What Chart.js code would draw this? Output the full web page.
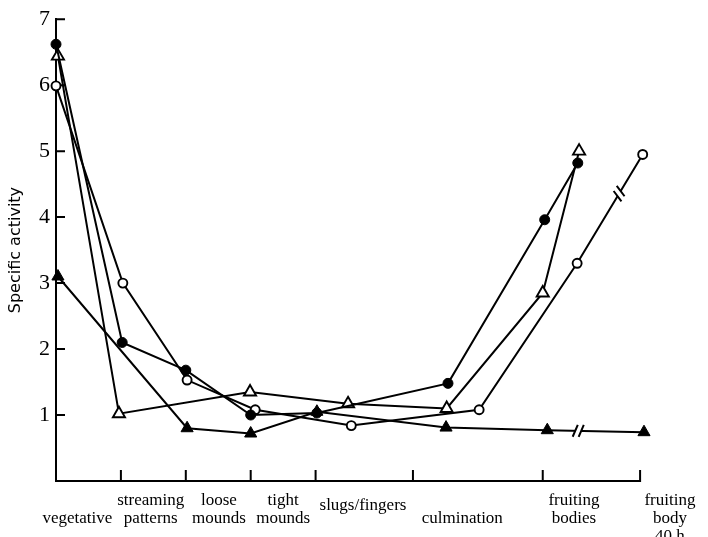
<!DOCTYPE html>
<html>
<head>
<meta charset="utf-8">
<script src="https://cdn.jsdelivr.net/npm/chart.js@4.4.1/dist/chart.umd.min.js"></script>
<style>
  html, body { margin: 0; padding: 0; background: #fff; }
</style>
</head>
<body>
<canvas id="chart" width="708" height="537"></canvas>
<script>
// Developmental stages along the x axis (stage units, one unit per early stage)
const stageLabels = [
  ["", "vegetative"],
  ["streaming", "patterns"],
  ["loose", "mounds"],
  ["tight", "mounds"],
  ["slugs/fingers"],
  ["", "culmination"],
  ["fruiting", "bodies"],
  ["fruiting", "body", "40 h"]
];
const stageLabelPos = [0.33, 1.46, 2.51, 3.5, 4.73, 6.26, 7.98, 9.46];
const stageBounds = [1, 2, 3, 4, 5.5, 7.5, 9];
const axisEnd = 9;

// Specific activity, y tick values
const yTicks = [1, 2, 3, 4, 5, 6, 7];

// Series: filled circles
const filledCircleX = [0, 1.02, 2.0, 3.0, 4.02, 6.04, 7.53, 8.04];
const filledCircleY = [6.62, 2.1, 1.68, 1.0, 1.03, 1.48, 3.96, 4.82];
// Series: open circles
const openCircleX = [0, 1.03, 2.02, 3.07, 4.55, 6.52, 8.03, 9.04];
const openCircleY = [5.99, 3.0, 1.53, 1.08, 0.84, 1.08, 3.3, 4.95];
// Series: open triangles
const openTriX = [0.03, 0.97, 2.99, 4.5, 6.02, 7.5, 8.06];
const openTriY = [6.44, 1.02, 1.35, 1.17, 1.1, 2.85, 5.0];
// Series: filled triangles
const filledTriX = [0.03, 2.02, 3.0, 4.02, 6.01, 7.57, 9.06];
const filledTriY = [3.1, 0.8, 0.72, 1.05, 0.81, 0.77, 0.74];

// Breaks on the long time gap: [dataset index, segment start index, fraction]
const breakMarks = [[0, 5, 0.32], [3, 6, 0.64]];

const pts = (xs, ys) => xs.map((x, i) => ({ x: x, y: ys[i] }));

const serif = "'Liberation Serif', 'Times New Roman', serif";

const axisDecor = {
  id: 'axisDecor',
  beforeDatasetsDraw(chart) {
    const { ctx, scales: { x, y } } = chart;
    const y0 = y.getPixelForValue(0);
    ctx.save();
    ctx.strokeStyle = '#000';
    ctx.lineWidth = 2;
    ctx.lineCap = 'butt';
    // x axis line and stage boundary ticks (pointing inward)
    ctx.beginPath();
    ctx.moveTo(x.getPixelForValue(0) - 1, y0);
    ctx.lineTo(x.getPixelForValue(axisEnd) + 1, y0);
    stageBounds.forEach(v => {
      const px = x.getPixelForValue(v);
      ctx.moveTo(px, y0);
      ctx.lineTo(px, y0 - 11);
    });
    // y axis inward ticks
    const x0 = x.getPixelForValue(0);
    yTicks.forEach(v => {
      const py = y.getPixelForValue(v);
      ctx.moveTo(x0, py);
      ctx.lineTo(x0 + 9, py);
    });
    ctx.stroke();
    ctx.restore();
  },
  afterDatasetsDraw(chart) {
    const { ctx } = chart;
    ctx.save();
    breakMarks.forEach(([di, si, t]) => {
      const data = chart.getDatasetMeta(di).data;
      const a = data[si], b = data[si + 1];
      const dx = b.x - a.x, dy = b.y - a.y;
      const len = Math.hypot(dx, dy);
      const ux = dx / len, uy = dy / len;
      const px = a.x + dx * t, py = a.y + dy * t;
      const gap = 3;
      // clear a short gap in the line
      ctx.strokeStyle = '#fff';
      ctx.lineWidth = 5;
      ctx.beginPath();
      ctx.moveTo(px - ux * gap, py - uy * gap);
      ctx.lineTo(px + ux * gap, py + uy * gap);
      ctx.stroke();
      // two slanted strokes
      const ang = Math.atan2(uy, ux) - 68 * Math.PI / 180;
      const sx = Math.cos(ang) * 6.5, sy = Math.sin(ang) * 6.5;
      ctx.strokeStyle = '#000';
      ctx.lineWidth = 2;
      ctx.beginPath();
      [-1, 1].forEach(s => {
        const cx = px + s * ux * gap, cy = py + s * uy * gap;
        ctx.moveTo(cx - sx, cy - sy);
        ctx.lineTo(cx + sx, cy + sy);
      });
      ctx.stroke();
    });
    ctx.restore();
  }
};

const common = {
  showLine: true,
  borderColor: '#000',
  borderWidth: 2,
  tension: 0,
  clip: false,
  pointBorderColor: '#000',
  pointHoverRadius: 0
};

new Chart(document.getElementById('chart'), {
  type: 'scatter',
  data: {
    datasets: [
      Object.assign({}, common, {
        label: 'filled triangles',
        data: pts(filledTriX, filledTriY),
        pointStyle: 'triangle',
        pointRadius: 7,
        pointBorderWidth: 1,
        pointBackgroundColor: '#000'
      }),
      Object.assign({}, common, {
        label: 'filled circles',
        data: pts(filledCircleX, filledCircleY),
        pointStyle: 'circle',
        pointRadius: 5,
        pointBorderWidth: 1,
        pointBackgroundColor: '#000'
      }),
      Object.assign({}, common, {
        label: 'open triangles',
        data: pts(openTriX, openTriY),
        pointStyle: 'triangle',
        pointRadius: 7,
        pointBorderWidth: 1.9,
        pointBackgroundColor: '#fff'
      }),
      Object.assign({}, common, {
        label: 'open circles',
        data: pts(openCircleX, openCircleY),
        pointStyle: 'circle',
        pointRadius: 4.5,
        pointBorderWidth: 1.9,
        pointBackgroundColor: '#fff'
      })
    ]
  },
  options: {
    responsive: false,
    animation: false,
    devicePixelRatio: 1,
    layout: { padding: { top: 16, right: 9.5, bottom: 0, left: 0 } },
    plugins: {
      legend: { display: false },
      tooltip: { enabled: false }
    },
    scales: {
      x: {
        type: 'linear',
        min: 0,
        max: 9.9,
        border: { display: false },
        grid: { display: false },
        afterBuildTicks: (scale) => {
          scale.ticks = stageLabelPos.map(v => ({ value: v }));
        },
        afterFit: (scale) => { scale.height = 56; },
        ticks: {
          autoSkip: false,
          maxRotation: 0,
          minRotation: 0,
          padding: 3,
          color: '#000',
          font: (c) => ({
            family: serif,
            size: 17,
            lineHeight: (stageLabels[c.index] && stageLabels[c.index].length === 1) ? 28 / 17 : 18 / 17
          }),
          callback: (value, index) => stageLabels[index]
        }
      },
      y: {
        min: 0,
        max: 7,
        border: { display: true, color: '#000', width: 2 },
        grid: { display: true, drawOnChartArea: false, drawTicks: false },
        afterBuildTicks: (scale) => {
          scale.ticks = yTicks.map(v => ({ value: v }));
        },
        afterFit: (scale) => { scale.width = 56; },
        ticks: {
          padding: 6,
          color: '#000',
          font: { family: serif, size: 22 },
          callback: (v) => String(v)
        },
        title: {
          display: true,
          text: 'Specific activity',
          color: '#000',
          font: { family: "'DejaVu Sans', sans-serif", size: 16 },
          padding: { top: 6, bottom: 0 }
        }
      }
    }
  },
  plugins: [axisDecor]
});
</script>
</body>
</html>
